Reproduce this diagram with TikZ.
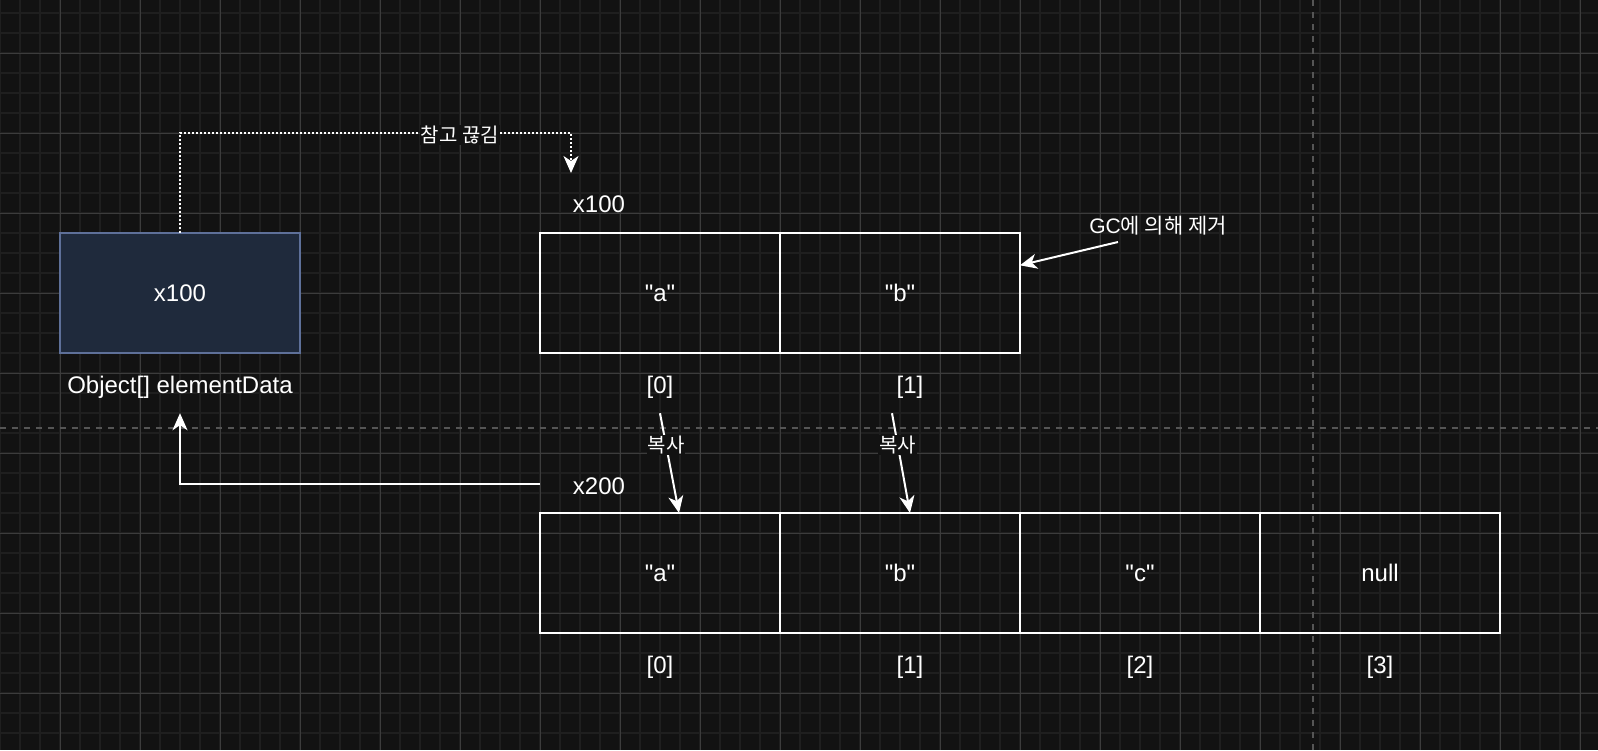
\documentclass[tikz,border=0pt]{standalone}
\usepackage{fontspec}
\setmainfont{Liberation Sans}[Ligatures=TeXOff]
\newfontfamily\krfont{Noto Sans CJK KR}
\usetikzlibrary{arrows.meta,positioning}
\definecolor{canvas}{HTML}{121212}
\definecolor{minorgrid}{HTML}{1F1F1F}
\definecolor{majorgrid}{HTML}{3C3C3C}
\definecolor{pagebreak}{HTML}{555555}
\definecolor{reffill}{HTML}{1F2A3C}
\definecolor{refline}{HTML}{5E7099}

\begin{document}
\begin{tikzpicture}[x=1pt,y=-1pt,
  every node/.style={font=\fontsize{24}{28}\selectfont,text=white},
  cell/.style={draw=white,line width=2pt,minimum width=240pt,minimum height=120pt,inner sep=0pt,outer sep=0pt},
  idx/.style={minimum height=52pt,inner sep=0pt},
  krtext/.style={font=\fontsize{21}{24}\selectfont},
  krlbl/.style={font=\krfont\fontsize{20}{24}\selectfont,fill=canvas,inner sep=1pt},
  arr/.style={white,line width=2pt,-{Stealth[length=17pt,width=15pt,inset=5pt]}},
  cutarr/.style={arr,dash pattern=on 2pt off 2pt}]
  \fill[canvas] (0,0) rectangle (1598,750);
  \useasboundingbox (0,0) rectangle (1598,750);
  \foreach \x in {0,20,...,1580} \draw[minorgrid,line width=2pt] (\x,0)--(\x,750);
  \foreach \y in {13,33,...,750} \draw[minorgrid,line width=2pt] (0,\y)--(1598,\y);
  \foreach \x in {60,140,...,1580} \draw[majorgrid,line width=1pt] (\x,0)--(\x,750);
  \foreach \y in {53,133,...,750} \draw[majorgrid,line width=1pt] (0,\y)--(1598,\y);
  \draw[pagebreak,line width=2pt,dash pattern=on 6pt off 6pt] (1313,0)--(1313,750) (0,428)--(1598,428);

  \node[cell,draw=refline,fill=reffill] (ref) at (180,293) {x100};
  \node[idx] (lbl) at (180,387) {Object[] elementData};
  \node (addr100) at (599,204) {x100};
  \node[cell] (a0) at (660,293) {"a"};
  \node[cell,right=0pt of a0] (a1) {"b"};
  \node[idx] (ta0) at (660,387) {[0]};
  \node[idx] (ta1) at (910,387) {[1]};
  \node (addr200) at (599,486) {x200};
  \node[cell] (b0) at (660,573) {"a"};
  \node[cell,right=0pt of b0] (b1) {"b"};
  \node[cell,right=0pt of b1] (b2) {"c"};
  \node[cell,right=0pt of b2] (b3) {null};
  \foreach \i/\x in {0/660,1/910,2/1140,3/1380} \node (tb\i) at (\x,667) {[\i]};
  \node[krtext] (gc) at (1158,226) {GC{\krfont 에 의해 제거}};

  \coordinate (cut) at (571,173);
  \coordinate (from200) at (540,484);
  \coordinate (gcfrom) at (1118,242);
  \draw[cutarr] (ref.north) -- ++(0,-100) -| (cut);
  \node[krlbl] (cutlbl) at (460,135) {참고 끊김};
  \draw[arr] (from200) -| (lbl.south);
  \draw[arr] (gcfrom) -- (a1.13);
  \draw[arr] (ta0.south) -- node[krlbl,pos=.32] (copy0) {복사} ([xshift=19pt]b0.north);
  \draw[arr] ([xshift=-18pt]ta1.south) -- node[krlbl,pos=.32] (copy1) {복사} ([xshift=10pt]b1.north);
\end{tikzpicture}
\end{document}
